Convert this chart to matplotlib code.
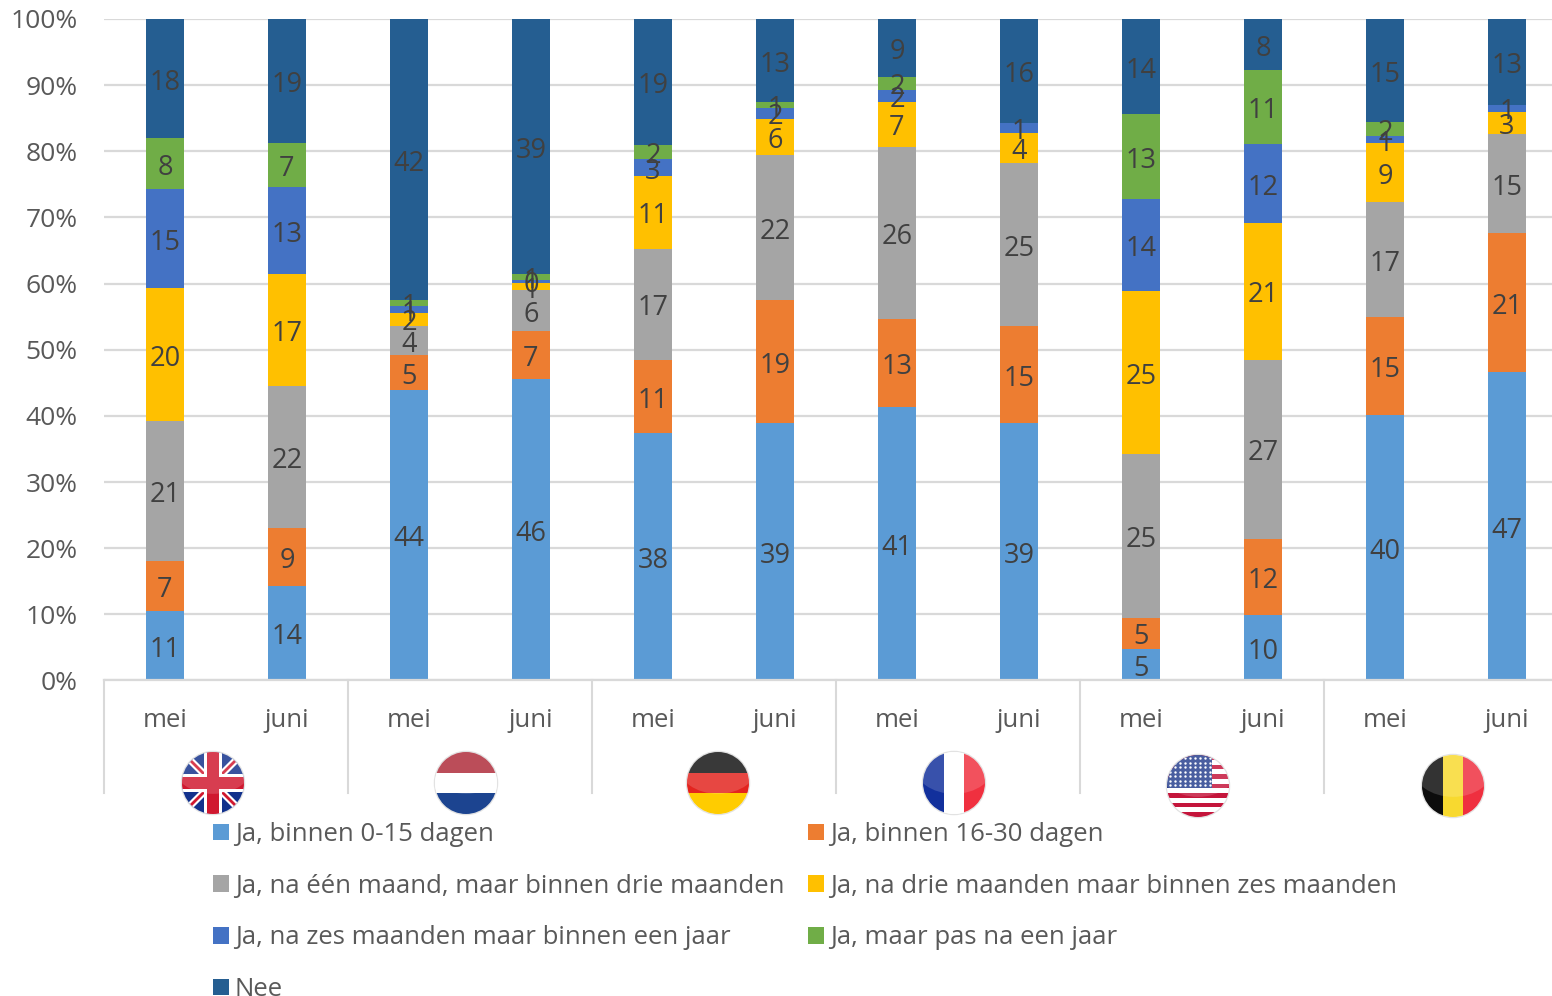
import numpy as np
import matplotlib
matplotlib.use("Agg")
import matplotlib.pyplot as plt
from matplotlib.patches import Ellipse, Rectangle, Polygon

plt.rcParams['font.family'] = ['Open Sans', 'DejaVu Sans']

# one value per bar, uk nl de fr us be, each mei then juni
months = ["mei", "juni"] * 6
names = ["Ja, binnen 0-15 dagen", "Ja, binnen 16-30 dagen",
         "Ja, na één maand, maar binnen drie maanden", "Ja, na drie maanden maar binnen zes maanden",
         "Ja, na zes maanden maar binnen een jaar", "Ja, maar pas na een jaar", "Nee"]

v_0_15 = [10.5, 14.3, 43.9, 45.6, 37.4, 38.9, 41.3, 38.9, 4.8, 9.9, 40.1, 46.6]
v_16_30 = [7.5, 8.8, 5.3, 7.2, 11.1, 18.6, 13.4, 14.7, 4.7, 11.5, 14.9, 21.1]
v_1_3m = [21.3, 21.4, 4.4, 6.2, 16.8, 21.9, 26.0, 24.6, 24.7, 27.1, 17.3, 14.9]
v_3_6m = [20.0, 17.0, 2.0, 1.1, 11.0, 5.5, 6.8, 4.6, 24.7, 20.7, 9.0, 3.4]
v_6_12m = [15.0, 13.1, 1.0, 0.5, 2.5, 1.7, 1.8, 1.5, 13.9, 11.9, 1.0, 1.0]
v_1y = [7.7, 6.6, 0.9, 0.8, 2.2, 0.9, 2.0, 0.0, 12.8, 11.2, 2.1, 0.0]
v_nee = [18.0, 18.8, 42.5, 38.6, 19.0, 12.5, 8.7, 15.7, 14.4, 7.7, 15.6, 13.0]

# the printed labels
l_0_15 = ["11", "14", "44", "46", "38", "39", "41", "39", "5", "10", "40", "47"]
l_16_30 = ["7", "9", "5", "7", "11", "19", "13", "15", "5", "12", "15", "21"]
l_1_3m = ["21", "22", "4", "6", "17", "22", "26", "25", "25", "27", "17", "15"]
l_3_6m = ["20", "17", "2", "1", "11", "6", "7", "4", "25", "21", "9", "3"]
l_6_12m = ["15", "13", "1", "0", "3", "2", "2", "1", "14", "12", "1", "1"]
l_1y = ["8", "7", "1", "1", "2", "1", "2", "", "13", "11", "2", ""]
l_nee = ["18", "19", "42", "39", "19", "13", "9", "16", "14", "8", "15", "13"]

series = [v_0_15, v_16_30, v_1_3m, v_3_6m, v_6_12m, v_1y, v_nee]
labels = [l_0_15, l_16_30, l_1_3m, l_3_6m, l_6_12m, l_1y, l_nee]
colors = ["#5B9BD5", "#ED7D31", "#A5A5A5", "#FFC000", "#4472C4", "#70AD47", "#255E91"]

W, H = 1552, 996
fig = plt.figure(figsize=(W / 100, H / 100), dpi=100, facecolor="white")

# axes run a bit past the right side of the picture, like the original crop
ax = fig.add_axes([104 / W, 1 - 680.5 / H, 1464 / W, 661.5 / H])
x = np.arange(12)
bottom = np.zeros(12)
handles = []
for vals, labs, col, name in zip(series, labels, colors, names):
    bars = ax.bar(x, vals, 38 / 122, bottom=bottom, color=col, label=name, zorder=2)
    texts = ax.bar_label(bars, labels=labs, label_type="center", color="#404040", fontsize=19.5, zorder=3)
    # the labels sit a little under the middle of the segment
    for t in texts:
        t.xyann = (0, -3)
    bottom = bottom + np.array(vals)
    handles.append(bars)

ax.set_xlim(-0.5, 11.5)
ax.set_ylim(0, 100)
ax.set_yticks(np.arange(0, 101, 10))
ax.set_yticklabels([f"{t}%" for t in range(0, 101, 10)])
ax.set_xticks(x)
ax.set_xticklabels(months)
ax.tick_params(axis="y", length=0, labelcolor="#595959", labelsize=19, pad=19)
ax.tick_params(axis="x", length=0, labelcolor="#595959", labelsize=18.5, pad=20)
ax.grid(axis="y", color="#D9D9D9", linewidth=1.6, zorder=0)
ax.set_axisbelow(True)
for s in ["top", "left", "right"]:
    ax.spines[s].set_visible(False)
ax.spines["bottom"].set_color("#D9D9D9")
ax.spines["bottom"].set_linewidth(1.6)

# overlay in picture pixels for group lines and the flags
ov = fig.add_axes([0, 0, 1, 1], facecolor="none")
ov.set_xlim(0, W)
ov.set_ylim(H, 0)
ov.axis("off")

for sx in [104, 348, 592, 836, 1080, 1324]:
    ov.plot([sx, sx], [680, 793], color="#D9D9D9", linewidth=1.5, zorder=1)


def flag_base(cx, cy, r):
    el = Ellipse((cx, cy), 2 * r, 2 * r, facecolor="white", edgecolor="none", zorder=3)
    ov.add_patch(el)
    ov.add_patch(Ellipse((cx, cy), 2 * r + 2.5, 2 * r + 2.5, facecolor="#E2E2E2", edgecolor="none", zorder=2))
    return el


def clipped(patch, el):
    ov.add_patch(patch)
    patch.set_clip_path(el)
    return patch


def gloss(cx, cy, r, el):
    # lighter top part of the round buttons
    g = Ellipse((cx, cy - r * 0.6), 2.6 * r, 1.9 * r, facecolor="white", alpha=0.16, edgecolor="none", zorder=6)
    clipped(g, el)


def vstripes(cx, cy, r, cols):
    el = flag_base(cx, cy, r)
    w = 2 * r / 3
    for i, c in enumerate(cols):
        clipped(Rectangle((cx - r + i * w, cy - r), w, 2 * r, facecolor=c, edgecolor="none", zorder=4), el)
    gloss(cx, cy, r, el)


def hstripes(cx, cy, r, cols):
    el = flag_base(cx, cy, r)
    h = 2 * r / 3
    for i, c in enumerate(cols):
        clipped(Rectangle((cx - r, cy - r + i * h), 2 * r, h, facecolor=c, edgecolor="none", zorder=4), el)
    gloss(cx, cy, r, el)


def uk(cx, cy, r):
    el = flag_base(cx, cy, r)
    clipped(Rectangle((cx - r, cy - r), 2 * r, 2 * r, facecolor="#12318C", edgecolor="none", zorder=4), el)
    for sgn in [1, -1]:
        clipped(Polygon([(cx - r, cy - sgn * r + sgn * 5), (cx - r, cy - sgn * r - sgn * 5),
                         (cx + r, cy + sgn * r - sgn * 5), (cx + r, cy + sgn * r + sgn * 5)],
                        facecolor="white", edgecolor="none", zorder=4), el)
        clipped(Polygon([(cx - r, cy - sgn * r + sgn * 2), (cx - r, cy - sgn * r - sgn * 2),
                         (cx + r, cy + sgn * r - sgn * 2), (cx + r, cy + sgn * r + sgn * 2)],
                        facecolor="#D0182F", edgecolor="none", zorder=4), el)
    clipped(Rectangle((cx - 9, cy - r), 18, 2 * r, facecolor="white", edgecolor="none", zorder=4), el)
    clipped(Rectangle((cx - r, cy - 9), 2 * r, 18, facecolor="white", edgecolor="none", zorder=4), el)
    clipped(Rectangle((cx - 6, cy - r), 12, 2 * r, facecolor="#D0182F", edgecolor="none", zorder=4), el)
    clipped(Rectangle((cx - r, cy - 6), 2 * r, 12, facecolor="#D0182F", edgecolor="none", zorder=4), el)
    gloss(cx, cy, r, el)


def us(cx, cy, r):
    el = flag_base(cx, cy, r)
    h = 2 * r / 13
    for i in range(0, 13, 2):
        clipped(Rectangle((cx - r, cy - r + i * h), 2 * r, h, facecolor="#C4153B", edgecolor="none", zorder=4), el)
    clipped(Rectangle((cx - r, cy - r), 1.45 * r, 7 * h, facecolor="#27408F", edgecolor="none", zorder=4), el)
    sx, sy = np.meshgrid(np.arange(cx - r + 3, cx + 0.4 * r, 5), np.arange(cy - r + 3, cy - r + 7 * h - 1, 4.5))
    stars = ov.scatter(sx.ravel(), sy.ravel(), s=3, color="white", linewidths=0, zorder=5)
    stars.set_clip_path(el)
    gloss(cx, cy, r, el)


uk(213, 783, 31)
hstripes(466, 783, 31, ["#AE2B3A", "white", "#1C4490"])
hstripes(718, 783, 31, ["#141414", "#E3241F", "#FFCC00"])
vstripes(954, 783, 31, ["#12309C", "white", "#F0303F"])
us(1198, 786, 31)
vstripes(1453, 786, 31, ["#0C0C0C", "#F8D92F", "#EF2F3F"])

# filled column by column, so reorder to keep the rows of the original
order = [0, 2, 4, 6, 1, 3, 5]
leg = ov.legend([handles[i] for i in order], [names[i] for i in order], ncol=2,
                loc="upper left", bbox_to_anchor=(213 / W, 1 - 822 / H), bbox_transform=fig.transFigure,
                frameon=False, fontsize=18.5, labelcolor="#595959", handlelength=0.62, handleheight=0.62,
                handletextpad=0.22, labelspacing=1.04, columnspacing=0.95, borderpad=0, borderaxespad=0)
leg.set_zorder(8)

fig.savefig("out.png", dpi=100)
